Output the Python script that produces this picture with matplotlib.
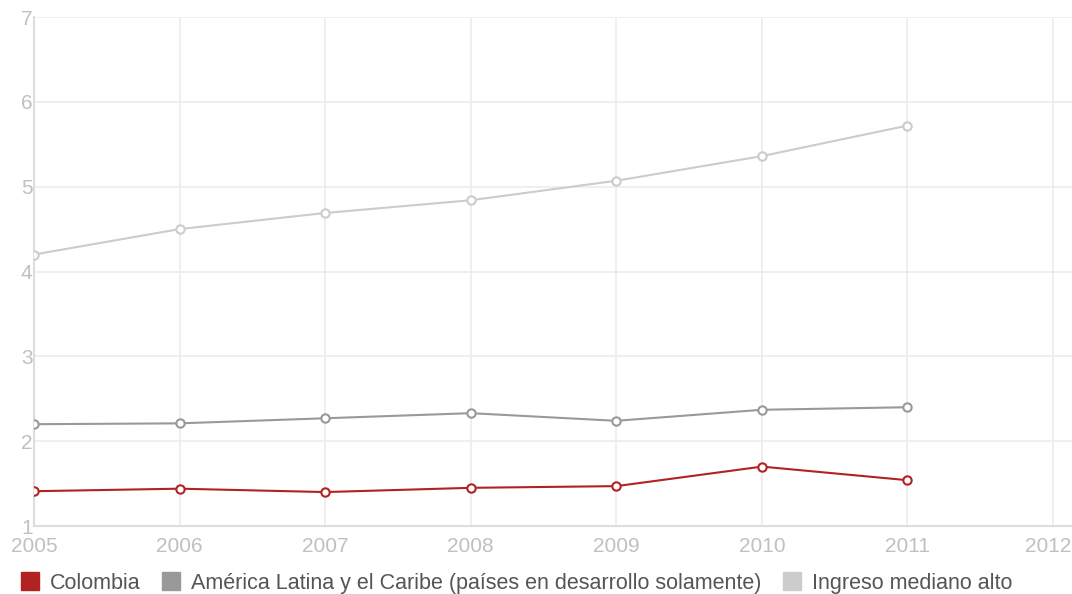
import matplotlib

matplotlib.use("Agg")
import matplotlib.pyplot as plt
import matplotlib.transforms as mtransforms
from matplotlib.lines import Line2D

plt.rcParams["font.family"] = ["Liberation Sans", "DejaVu Sans"]

# ---- Data ---------------------------------------------------------------
years = [2005, 2006, 2007, 2008, 2009, 2010, 2011]
colombia = [1.41, 1.44, 1.40, 1.45, 1.47, 1.70, 1.54]
latam = [2.20, 2.21, 2.27, 2.33, 2.24, 2.37, 2.40]
ingreso = [4.20, 4.50, 4.69, 4.84, 5.07, 5.36, 5.72]

series_names = [
    "Colombia",
    "América Latina y el Caribe (países en desarrollo solamente)",
    "Ingreso mediano alto",
]
series_colors = ["#b22222", "#999999", "#cccccc"]
x_ticks = [2005, 2006, 2007, 2008, 2009, 2010, 2011, 2012]
y_ticks = [1, 2, 3, 4, 5, 6, 7]

# ---- Figure -------------------------------------------------------------
fig = plt.figure(figsize=(10.72, 5.94), dpi=100)
ax = fig.add_axes([34 / 1072, 68 / 594, 1 - 34 / 1072, 509 / 594])

for vals, color in zip((ingreso, latam, colombia), series_colors[::-1]):
    ax.plot(years, vals, color=color, lw=1.5, marker="o", ms=6,
            mfc="white", mec=color, mew=1.5, zorder=3)

ax.set_xlim(2005, 2012.13)
ax.set_ylim(1, 7)
ax.set_xticks(x_ticks)
ax.set_yticks(y_ticks)
ax.grid(True, color="#ececec", lw=1.2)
ax.set_axisbelow(True)

for side in ("top", "right"):
    ax.spines[side].set_visible(False)
for side in ("left", "bottom"):
    ax.spines[side].set_color("#dddddd")
    ax.spines[side].set_linewidth(1.5)

ax.tick_params(length=0, labelsize=15, labelcolor="#c0c0c0")
ax.tick_params(axis="y", pad=1)
ax.tick_params(axis="x", pad=8)

# last year label sits at the right edge; keep it inside the canvas
last = ax.get_xticklabels()[-1]
last.set_horizontalalignment("right")
last.set_transform(last.get_transform() + mtransforms.ScaledTranslation(
    0.18, 0, fig.dpi_scale_trans))

handles = [
    Line2D([], [], ls="none", marker="s", ms=13, mfc=c, mec=c)
    for c in series_colors
]
fig.legend(handles, series_names, loc="lower left",
           bbox_to_anchor=(0.001, -0.032), ncol=3, frameon=False,
           fontsize=15.5, handlelength=0.9, handletextpad=0.45,
           columnspacing=1.0, labelcolor="#555555")

fig.savefig("out.png", dpi=100)
